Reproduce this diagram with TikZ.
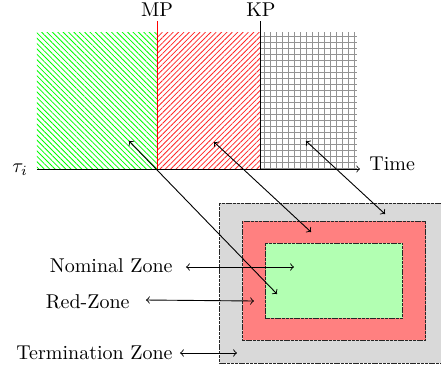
\documentclass[tikz,border=0pt]{standalone}
\usetikzlibrary{patterns.meta}
\begin{document}
\begin{tikzpicture}[x=0.5pt,y=-0.5pt,
  lbl/.style={inner sep=0pt},
  zone/.style={draw=black!85, dash pattern=on 1.5pt off 0.4pt, line width=0.5pt},
  link/.style={<->, line width=0.45pt}]
\useasboundingbox (0,0) rectangle (441,372);
\clip (0,0) rectangle (441,372);

% time line bands
\fill[pattern={Lines[angle=-45,distance=1.9pt,line width=0.4pt]}, pattern color=green]
  (37,32) rectangle (157,169);
\fill[pattern={Lines[angle=45,distance=1.9pt,line width=0.4pt]}, pattern color=red!85!white]
  (157,32) rectangle (260,169);
\fill[pattern={Hatch[distance=3pt,line width=0.35pt]}, pattern color=gray!85]
  (260,32) rectangle (357,169);

% markers and time axis
\draw[red] (157,21) -- (157,169);
\draw (260,21) -- (260,169);
\draw[->] (37,169) -- (360,169);

\node[lbl] (mp) at (157,10) {MP};
\node[lbl] (kp) at (261,10) {KP};
\node[lbl, anchor=west] (time) at (369,164) {Time};
\node[lbl] (tau) at (20,170) {$\tau_i$};

% nested zones
\filldraw[zone, fill=black!15] (220,203) rectangle (450,363);
\filldraw[zone, fill=red!50] (243,221) rectangle (426,340);
\filldraw[zone, fill=green!30] (266,243) rectangle (403,318);

% zone labels
\node[lbl, anchor=east] (nom) at (173,266) {Nominal Zone};
\node[lbl, anchor=east] (redz) at (130,302) {Red-Zone};
\node[lbl, anchor=east] (term) at (173,352.5) {Termination Zone};

% connector ends
\coordinate (nomA) at (186,267);
\coordinate (nomB) at (294,267);
\coordinate (redA) at (146,300);
\coordinate (redB) at (254,301);
\coordinate (termA) at (180,353);
\coordinate (termB) at (237,353);
\coordinate (g1) at (129,141);
\coordinate (g2) at (277,294);
\coordinate (r1) at (214,142);
\coordinate (r2) at (311,232);
\coordinate (k1) at (306,141);
\coordinate (k2) at (385,214);

% connectors
\draw[link] (nomA) -- (nomB);
\draw[link] (redA) -- (redB);
\draw[link] (termA) -- (termB);
\draw[link] (g1) -- (g2);
\draw[link] (r1) -- (r2);
\draw[link] (k1) -- (k2);
\end{tikzpicture}
\end{document}
